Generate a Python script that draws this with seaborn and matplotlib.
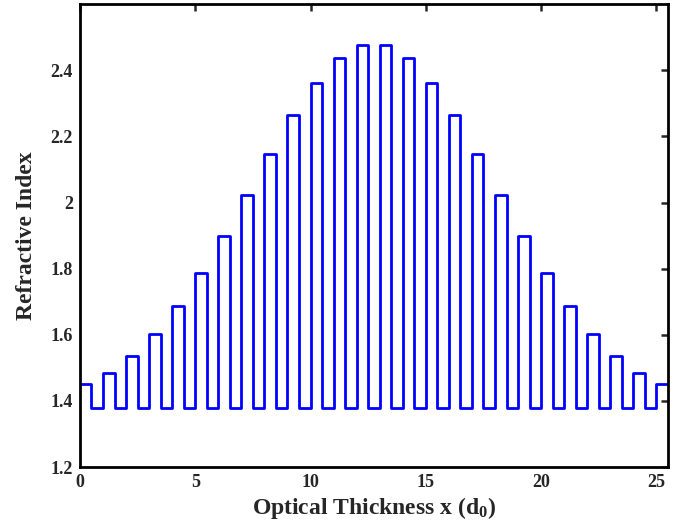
import numpy as np
import matplotlib
matplotlib.use('Agg')
import matplotlib.pyplot as plt
import seaborn as sns

# layer indices: high layers alternate with a constant low layer
high_index = [1.450, 1.484, 1.537, 1.602, 1.686, 1.786, 1.900, 2.023, 2.147,
              2.266, 2.363, 2.436, 2.476, 2.476, 2.436, 2.363, 2.266, 2.147,
              2.023, 1.900, 1.786, 1.686, 1.602, 1.537, 1.484, 1.450]
low_index = 1.38
layer_thickness = 0.5  # optical thickness of each layer, units of d0

x_ticks = [0, 5, 10, 15, 20, 25]
y_ticks = [1.2, 1.4, 1.6, 1.8, 2.0, 2.2, 2.4]
y_tick_labels = ['1.2', '1.4', '1.6', '1.8', '2', '2.2', '2.4']

# build the step profile from the layers
values = []
for i, h in enumerate(high_index):
    values.append(h)
    if i < len(high_index) - 1:
        values.append(low_index)
edges = np.arange(len(values) + 1) * layer_thickness
profile = values + [values[-1]]

sns.set_style('white')
plt.rcParams['font.family'] = ['Liberation Serif', 'DejaVu Serif']
plt.rcParams['font.weight'] = 'bold'
plt.rcParams['mathtext.fontset'] = 'custom'
plt.rcParams['mathtext.rm'] = 'Liberation Serif:bold'
plt.rcParams['mathtext.it'] = 'Liberation Serif:bold'

fig = plt.figure(figsize=(6.83, 5.32), dpi=100)
ax = fig.add_axes([0.117, 0.122, 0.861, 0.870])

sns.lineplot(x=edges, y=profile, drawstyle='steps-post', estimator=None,
             sort=False, color='#0000ff', linewidth=2.0, ax=ax)

ax.set_xlim(0, 25.5)
ax.set_ylim(1.2, 2.6)
ax.set_xticks(x_ticks)
ax.set_xticklabels([str(t) for t in x_ticks])
ax.set_yticks(y_ticks)
ax.set_yticklabels(y_tick_labels)
ax.tick_params(direction='in', length=5, width=1.8, top=True, right=True,
               labelsize=13, pad=5)
for lab in ax.get_xticklabels() + ax.get_yticklabels():
    lab.set_fontweight('bold')
for s in ax.spines.values():
    s.set_linewidth(2.0)
    s.set_color('black')

ax.set_xlabel(r'Optical Thickness x (d$_\mathregular{0}$)', fontsize=17,
              fontweight='bold', labelpad=3)
ax.set_ylabel('Refractive Index', fontsize=17, fontweight='bold', labelpad=10)

fig.savefig('out.png', dpi=100)
